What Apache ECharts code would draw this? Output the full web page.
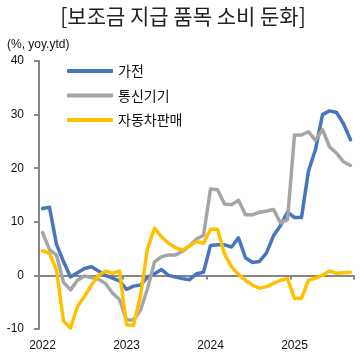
<!DOCTYPE html>
<html>
<head>
<meta charset="utf-8">
<script src="https://cdn.jsdelivr.net/npm/echarts@6/dist/echarts.min.js"></script>
<style>
html,body{margin:0;padding:0;background:#fff;}
#c{width:364px;height:363px;}
</style>
</head>
<body>
<div id="c"></div>
<script>
var titleText = '[보조금 지급 품목 소비 둔화]';
var unitText = '(%, yoy.ytd)';
var seriesNames = ['가전', '통신기기', '자동차판매'];
var categories = [
  '2022-01','2022-02','2022-03','2022-04','2022-05','2022-06','2022-07','2022-08','2022-09','2022-10','2022-11','2022-12',
  '2023-01','2023-02','2023-03','2023-04','2023-05','2023-06','2023-07','2023-08','2023-09','2023-10','2023-11','2023-12',
  '2024-01','2024-02','2024-03','2024-04','2024-05','2024-06','2024-07','2024-08','2024-09','2024-10','2024-11','2024-12',
  '2025-01','2025-02','2025-03','2025-04','2025-05','2025-06','2025-07','2025-08','2025-09'
];
var appliances = [
  12.5, 12.7, 5.8, 2.6, -0.3, 0.5, 1.3, 1.6, 0.8, 0.0, -0.5, -1.0,
  -2.6, -2.0, -1.8, -0.3, 0.3, 1.1, 0.0, -0.3, -0.6, -0.8, 0.3, 0.6,
  5.6, 5.7, 5.7, 5.3, 7.0, 3.3, 2.4, 2.6, 4.2, 7.4, 9.3, 11.8,
  10.8, 10.8, 19.5, 23.5, 30.0, 30.7, 30.4, 28.3, 25.3
];
var telecom = [
  8.0, 4.8, 3.8, -1.3, -2.7, -0.9, -0.1, -0.4, -0.7, -1.5, -3.3, -4.5,
  -8.3, -8.3, -6.5, -2.5, 2.5, 3.5, 3.8, 3.8, 4.5, 5.5, 6.8, 7.5,
  16.1, 16.0, 13.3, 13.2, 14.0, 11.3, 11.3, 11.8, 12.0, 12.3, 9.8, 10.4,
  26.2, 26.2, 26.8, 25.2, 27.2, 24.0, 22.8, 21.2, 20.5
];
var autoSales = [
  4.6, 4.1, 1.0, -8.5, -9.8, -5.8, -3.9, -1.8, 0.0, 0.8, 0.4, 0.8,
  -9.2, -9.3, -3.8, 5.0, 8.8, 7.2, 6.0, 5.2, 4.7, 5.5, 6.3, 6.0,
  8.6, 8.6, 4.0, 1.6, 0.2, -0.9, -1.8, -2.4, -2.1, -1.5, -0.9, -0.6,
  -4.3, -4.3, -0.9, -0.5, 0.0, 0.8, 0.4, 0.5, 0.6
];
var yMin = -10, yMax = 40, yStep = 10;
var colors = ['#4676BD', '#A5A5A5', '#FFC000'];

var chart = echarts.init(document.getElementById('c'), null, {renderer: 'canvas'});
var cjk = '"Noto Sans CJK KR", "Noto Sans", sans-serif';
var num = '"Liberation Sans", Arial, sans-serif';
var dataSets = [appliances, telecom, autoSales];
chart.setOption({
  backgroundColor: '#fff',
  animation: false,
  title: [
    {text: titleText, left: 183, top: 6, textAlign: 'center', padding: 0,
     textStyle: {fontFamily: cjk, fontSize: 21, fontWeight: 'normal', color: '#222'}},
    {text: unitText, left: 7, top: 39, padding: 0,
     textStyle: {fontFamily: num, fontSize: 12, fontWeight: 'normal', color: '#111'}}
  ],
  legend: {
    orient: 'vertical', left: 67, top: 64, padding: 0,
    itemWidth: 46, itemHeight: 4, itemGap: 10.5,
    icon: 'roundRect',
    textStyle: {fontFamily: cjk, fontSize: 14, color: '#111'},
    data: seriesNames
  },
  grid: {left: 39, right: 10, top: 61, bottom: 34, containLabel: false},
  xAxis: [
    {type: 'category', data: categories, boundaryGap: true, position: 'top',
     axisLine: {show: true, onZero: true, lineStyle: {color: '#868686', width: 2}},
     axisTick: {show: true, inside: true, length: 4, interval: 11, lineStyle: {color: '#868686', width: 2}},
     axisLabel: {show: false}, splitLine: {show: false}},
    {type: 'category', data: categories, boundaryGap: true, position: 'bottom',
     axisLine: {show: false, onZero: false}, axisTick: {show: false},
     axisLabel: {show: true, interval: 11, margin: 11, fontFamily: num, fontSize: 12, color: '#111',
       formatter: function (v) { return v.slice(0, 4); }},
     splitLine: {show: false}}
  ],
  yAxis: {
    type: 'value', min: yMin, max: yMax, interval: yStep,
    axisLine: {show: true, lineStyle: {color: '#868686', width: 2}},
    axisTick: {show: true, length: 5, lineStyle: {color: '#868686', width: 2}},
    axisLabel: {margin: 15, fontFamily: num, fontSize: 12, color: '#111'},
    splitLine: {show: false}
  },
  series: seriesNames.map(function (n, k) {
    return {
      name: n, type: 'line', xAxisIndex: 0, data: dataSets[k],
      symbol: 'none', smooth: false, color: colors[k],
      lineStyle: {width: 3.5, color: colors[k], cap: 'round', join: 'round'}
    };
  })
});
</script>
</body>
</html>
